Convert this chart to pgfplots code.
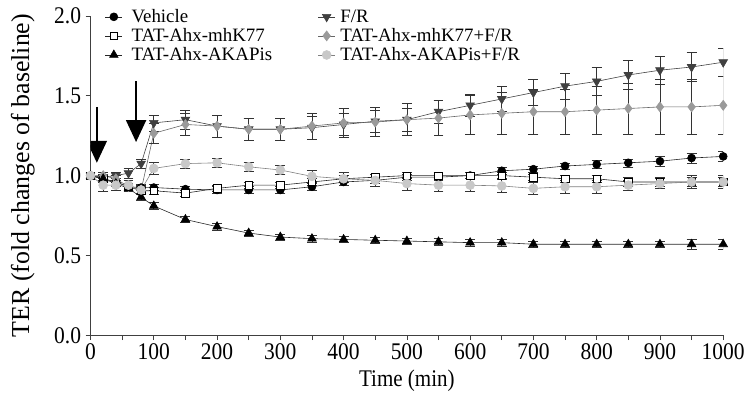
\documentclass[border=0pt]{standalone}
\usepackage{graphicx}
\usepackage{fontspec}
\setmainfont{Liberation Serif}
\usepackage{pgfplots}
\pgfplotsset{compat=1.18}
\usepackage{pgfplotstable}
\usetikzlibrary{arrows.meta}

\definecolor{frgrey}{HTML}{404040}
\definecolor{midgrey}{HTML}{9A9A9A}
\definecolor{ltgrey}{HTML}{C8C8C8}

% t, Vehicle, mhK77, AKAPis, F/R, mhK77+F/R, AKAPis+F/R (mean, sem)
\pgfplotstableread{
t    veh   vehe  mhk   mhke  aka   akae  fr    fre   mfr   mfre  afr   afre
0    1.00  0.00  1.00  0.00  1.00  0.00  1.00  0.00  1.00  0.00  1.00  0.00
20   0.98  0.02  0.98  0.02  0.98  0.02  0.99  0.02  1.00  0.02  0.94  0.04
40   0.96  0.02  0.96  0.02  0.95  0.02  1.00  0.02  0.98  0.02  0.94  0.03
60   0.93  0.02  0.93  0.02  0.92  0.02  1.015 0.03  0.93  0.02  0.94  0.03
80   0.925 0.02  0.905 0.02  0.865 0.02  1.075 0.03  0.91  0.02  0.91  0.03
100  0.925 0.02  0.905 0.02  0.81  0.02  1.33  0.05  1.265 0.06  1.045 0.04
150  0.915 0.02  0.89  0.02  0.725 0.02  1.35  0.06  1.32  0.07  1.075 0.03
200  0.91  0.02  0.92  0.02  0.68  0.02  1.31  0.07  1.31  0.07  1.08  0.03
250  0.91  0.02  0.94  0.02  0.64  0.02  1.29  0.07  1.29  0.07  1.055 0.03
300  0.91  0.02  0.94  0.02  0.615 0.02  1.29  0.07  1.29  0.07  1.035 0.03
350  0.93  0.02  0.96  0.02  0.605 0.02  1.30  0.07  1.31  0.08  0.995 0.04
400  0.96  0.02  0.98  0.02  0.60  0.02  1.32  0.07  1.33  0.09  0.98  0.04
450  0.97  0.02  0.99  0.02  0.595 0.02  1.34  0.07  1.335 0.09  0.97  0.04
500  0.99  0.02  1.00  0.02  0.59  0.02  1.35  0.07  1.35  0.10  0.95  0.04
550  0.99  0.02  1.00  0.02  0.585 0.02  1.40  0.07  1.36  0.11  0.94  0.04
600  1.00  0.02  1.00  0.02  0.58  0.02  1.44  0.07  1.38  0.12  0.94  0.04
650  1.03  0.02  1.00  0.02  0.58  0.02  1.48  0.08  1.39  0.13  0.935 0.04
700  1.04  0.02  0.99  0.02  0.57  0.02  1.52  0.08  1.40  0.14  0.92  0.04
750  1.06  0.02  0.98  0.02  0.57  0.02  1.56  0.08  1.40  0.14  0.93  0.04
800  1.07  0.025 0.98  0.02  0.57  0.02  1.59  0.09  1.41  0.15  0.93  0.04
850  1.08  0.025 0.96  0.03  0.57  0.02  1.63  0.09  1.42  0.16  0.94  0.03
900  1.09  0.03  0.96  0.03  0.57  0.02  1.66  0.09  1.43  0.17  0.95  0.03
950  1.11  0.03  0.96  0.04  0.57  0.03  1.68  0.09  1.43  0.17  0.96  0.03
1000 1.12  0.03  0.96  0.04  0.57  0.03  1.71  0.09  1.44  0.18  0.96  0.03
}\ter

\begin{document}
\begin{tikzpicture}
\begin{axis}[
    scale only axis,
    width=636bp, height=321bp,
    xmin=0, xmax=1000, ymin=0, ymax=2,
    axis x line*=bottom, axis y line*=left,
    axis line style={black!75, line width=0.7pt},
    xtick={0,100,...,1000},
    minor xtick={50,150,...,950},
    ytick={0,0.5,1,1.5,2},
    xticklabel={\scalebox{0.9}[1]{\pgfmathprintnumber[fixed,precision=0,1000 sep={}]{\tick}}},
    yticklabel={\scalebox{0.9}[1]{\pgfmathprintnumber[fixed,fixed zerofill,precision=1]{\tick}}},
    /pgf/number format/assume math mode=true,
    tick align=outside,
    major tick length=5bp, minor tick length=5bp,
    tick style={black!75, line width=0.7pt},
    tick label style={font=\fontsize{24bp}{26bp}\selectfont},
    xticklabel style={yshift=0bp},
    yticklabel style={xshift=-1bp},
    xlabel={\scalebox{0.88}[1]{Time (min)}},
    ylabel={TER (fold changes of baseline)},
    xlabel style={font=\fontsize{24bp}{26bp}\selectfont, at={(axis description cs:0.5,-0.143)}, anchor=center},
    ylabel style={font=\fontsize{26bp}{28bp}\selectfont, at={(axis description cs:-0.107,0.5)}, anchor=center},
    legend columns=2,
    legend cell align=left,
    legend style={at={(axis description cs:0.018,1.033)}, anchor=north west,
        draw=none, fill=none, font=\fontsize{19bp}{21bp}\selectfont,
        row sep=0.5bp,
        /tikz/column 1/.style={column sep=7bp},
        /tikz/column 2/.style={column sep=44bp},
        /tikz/column 3/.style={column sep=3bp}},
    error bars/y dir=both, error bars/y explicit,
    error bars/error mark options={rotate=90, black!80, mark size=5bp, line width=0.6pt},
    error bars/error bar style={black!80, line width=0.6pt},
]
\addplot[black!85, line width=0.6pt, mark=*, mark size=4bp, mark options={fill=black, draw=black}]
    table[x=t, y=veh, y error=vehe] {\ter};
\addlegendentry{Vehicle}
\addplot[frgrey, line width=0.6pt, mark=triangle*, mark size=5bp, mark options={rotate=180, fill=frgrey, draw=frgrey}]
    table[x=t, y=fr, y error=fre] {\ter};
\addlegendentry{F/R}
\addplot[black!85, line width=0.6pt, mark=square*, mark size=3.8bp, mark options={fill=white, draw=black}]
    table[x=t, y=mhk, y error=mhke] {\ter};
\addlegendentry{TAT-Ahx-mhK77}
\addplot[black!60, line width=0.6pt, mark=diamond*, mark size=5bp, mark options={fill=midgrey, draw=midgrey}]
    table[x=t, y=mfr, y error=mfre] {\ter};
\addlegendentry{TAT-Ahx-mhK77+F/R}
\addplot[black!85, line width=0.6pt, mark=triangle*, mark size=5bp, mark options={fill=black, draw=black}]
    table[x=t, y=aka, y error=akae] {\ter};
\addlegendentry{TAT-Ahx-AKAPis}
\addplot[black!50, line width=0.6pt, mark=*, mark size=4.5bp, mark options={fill=ltgrey, draw=ltgrey}]
    table[x=t, y=afr, y error=afre] {\ter};
\addlegendentry{TAT-Ahx-AKAPis+F/R}

% treatment arrows
\draw[black, line width=2bp, -{Triangle[width=20bp,length=22bp]}] (axis cs:10,1.43) -- (axis cs:10,1.08);
\draw[black, line width=2bp, -{Triangle[width=20bp,length=22bp]}] (axis cs:72,1.59) -- (axis cs:72,1.21);
\end{axis}
\path ([shift={(-91bp,-67bp)}]current axis.south west) rectangle ([shift={(21bp,16bp)}]current axis.north east);
\end{tikzpicture}
\end{document}
